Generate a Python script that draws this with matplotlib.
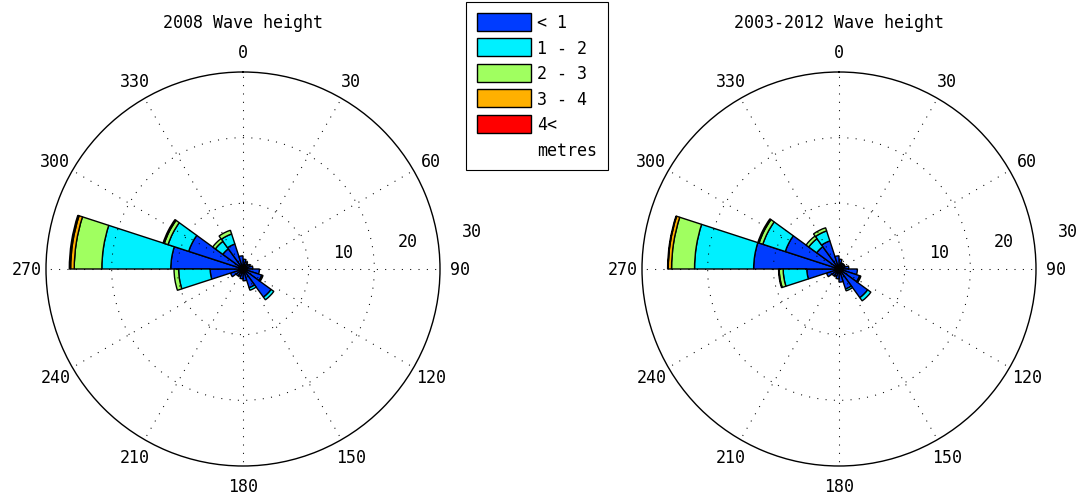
import numpy as np
import matplotlib
matplotlib.use("Agg")
import matplotlib.pyplot as plt
from matplotlib.patches import Patch

# ---- data ----
bin_centers = [9, 27, 45, 63, 81, 99, 117, 135, 153, 171,
               189, 207, 225, 243, 261, 279, 297, 315, 333, 351]
bin_width_deg = 18
classes = ["< 1", "1 - 2", "2 - 3", "3 - 4", "4<"]
colors = ["#003CFF", "#00F0FF", "#A0FF60", "#FFB000", "#FF0000"]

# 2008: percentage per class (not cumulative)
y2008_lt1 = [1.5, 1.2, 1.0, 1.2, 1.5, 2.5, 3.0, 5.3, 3.0, 1.8,
             1.5, 1.2, 1.3, 2.0, 5.0, 11.0, 8.7, 3.8, 4.0, 2.0]
y2008_1_2 = [0, 0, 0, 0, 0, 0, 0.2, 0.5, 0.4, 0,
             0, 0, 0, 0, 4.8, 10.5, 3.3, 1.4, 1.6, 0]
y2008_2_3 = [0, 0, 0, 0, 0, 0, 0, 0, 0, 0,
             0, 0, 0, 0, 0.7, 4.2, 0.6, 0.5, 0.6, 0]
y2008_3_4 = [0, 0, 0, 0, 0, 0, 0, 0, 0, 0,
             0, 0, 0, 0, 0, 0.55, 0.2, 0, 0, 0]
y2008_gt4 = [0, 0, 0, 0, 0, 0, 0, 0, 0, 0,
             0, 0, 0, 0, 0, 0.2, 0, 0, 0, 0]

# 2003-2012
yall_lt1 = [1.5, 1.0, 1.0, 1.0, 1.5, 2.8, 3.3, 5.4, 3.2, 2.0,
            1.5, 1.2, 1.3, 2.0, 4.9, 13.0, 8.6, 4.2, 4.5, 2.0]
yall_1_2 = [0, 0, 0, 0, 0, 0, 0.2, 0.6, 0.3, 0,
            0, 0, 0, 0, 3.6, 9.0, 3.6, 1.5, 1.6, 0]
yall_2_3 = [0, 0, 0, 0, 0, 0, 0, 0, 0, 0,
            0, 0, 0, 0, 0.6, 3.5, 0.6, 0.5, 0.5, 0]
yall_3_4 = [0, 0, 0, 0, 0, 0, 0, 0, 0, 0,
            0, 0, 0, 0, 0.1, 0.5, 0.2, 0, 0, 0]
yall_gt4 = [0, 0, 0, 0, 0, 0, 0, 0, 0, 0,
            0, 0, 0, 0, 0, 0.1, 0, 0, 0, 0]

titles = ["2008 Wave height", "2003-2012 Wave height"]
angle_ticks = list(range(0, 360, 30))
ring_ticks = [10, 20, 30]
unit_label = "metres"

FONT = "DejaVu Sans Mono"
FS = 12

fig = plt.figure(figsize=(10.8, 5.02), dpi=100)
W, H = 1080, 502
R = 197


def make_rose(cx, cy, series, title):
    ax = fig.add_axes([(cx - R) / W, (H - cy - R) / H, 2 * R / W, 2 * R / H],
                      projection="polar")
    ax.set_theta_zero_location("N")
    ax.set_theta_direction(-1)
    ax.set_ylim(0, 30)
    ax.set_xticks([])
    ax.set_yticks([])
    ax.grid(False)
    ax.spines["polar"].set_color("black")
    ax.spines["polar"].set_linewidth(1.0)

    theta = np.deg2rad(bin_centers)
    width = np.deg2rad(bin_width_deg)
    bottom = np.zeros(len(bin_centers))
    for vals, col in zip(series, colors):
        vals = np.asarray(vals, dtype=float)
        mask = vals > 0
        ax.bar(theta[mask], vals[mask], width=width, bottom=bottom[mask],
               color=col, edgecolor="black", linewidth=1.0, align="center",
               zorder=2)
        bottom = bottom + vals

    # dotted grid on top
    t = np.linspace(0, 2 * np.pi, 361)
    for r in ring_ticks[:-1]:
        ax.plot(t, np.full_like(t, r), color="black", lw=0.75,
                ls=(0, (1, 7)), zorder=3)
    for a in range(0, 360, 30):
        ax.plot([np.deg2rad(a)] * 2, [0, 30], color="black", lw=0.75,
                ls=(0, (1, 7)), zorder=3)

    for a in angle_ticks:
        ax.text(np.deg2rad(a), 33, str(a), ha="center", va="center",
                family=FONT, fontsize=FS)
    for v in ring_ticks:
        ax.text(np.deg2rad(80.5), v + 5.4, str(v), ha="center", va="center",
                family=FONT, fontsize=FS)
    fig.text(cx / W, 1 - 23.5 / H, title, ha="center", va="center",
             family=FONT, fontsize=FS)
    return ax


make_rose(243, 270, [y2008_lt1, y2008_1_2, y2008_2_3, y2008_3_4, y2008_gt4],
          titles[0])
make_rose(839, 270, [yall_lt1, yall_1_2, yall_2_3, yall_3_4, yall_gt4],
          titles[1])

handles = [Patch(facecolor=c, edgecolor="black", linewidth=1.0) for c in colors]
handles.append(Patch(facecolor="none", edgecolor="none"))
labels = classes + [unit_label]
leg = fig.legend(handles, labels, loc="upper left",
                 bbox_to_anchor=(466 / W, 1 - 3 / H),
                 bbox_transform=fig.transFigure, borderaxespad=0,
                 fancybox=False, edgecolor="black", framealpha=1,
                 prop={"family": FONT, "size": FS},
                 handlelength=3.24, handleheight=1.26, labelspacing=0.42,
                 borderpad=0.66, handletextpad=0.36)
leg.get_frame().set_linewidth(0.8)

fig.savefig("out.png", dpi=100)
